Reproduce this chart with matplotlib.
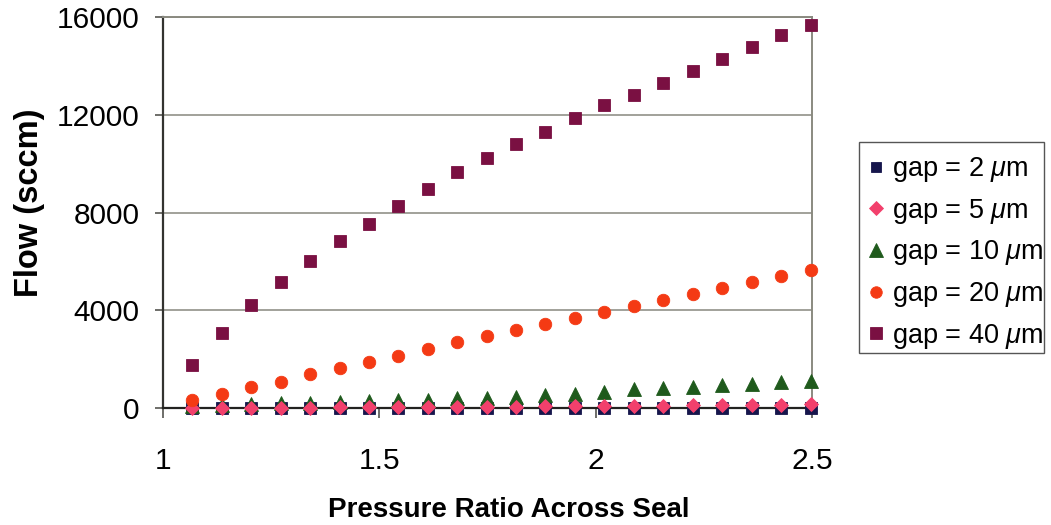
import matplotlib
matplotlib.use("Agg")
import matplotlib.pyplot as plt
from matplotlib.patches import Rectangle

plt.rcParams['font.family'] = ['Liberation Sans', 'DejaVu Sans']
plt.rcParams['mathtext.fontset'] = 'custom'
plt.rcParams['mathtext.rm'] = 'Liberation Sans'
plt.rcParams['mathtext.it'] = 'Liberation Sans:italic'

# Pressure ratio across the seal (x) and measured flow in sccm for each gap
pressure_ratio = [1.068, 1.136, 1.204, 1.272, 1.340, 1.408, 1.476, 1.544, 1.612, 1.680, 1.748,
                  1.816, 1.884, 1.952, 2.020, 2.088, 2.156, 2.224, 2.293, 2.361, 2.429, 2.497]
flow_gap2 = [1, 1, 2, 2, 2, 3, 3, 3, 4, 4, 5, 5, 5, 6, 6, 7, 7, 8, 8, 9, 9, 10]
flow_gap5 = [5, 8, 10, 14, 18, 22, 27, 32, 38, 44, 50, 57, 64, 72, 80, 88, 96, 105, 115, 125, 135, 145]
flow_gap10 = [80, 110, 150, 190, 220, 250, 270, 320, 330, 390, 400, 460, 520, 560, 640,
              780, 830, 860, 930, 1000, 1070, 1100]
flow_gap20 = [340, 585, 850, 1070, 1400, 1640, 1870, 2140, 2430, 2690, 2950, 3190, 3440, 3680,
              3930, 4170, 4420, 4660, 4920, 5160, 5400, 5650]
flow_gap40 = [1760, 3080, 4215, 5170, 6005, 6815, 7530, 8280, 8965, 9655, 10235, 10815, 11310,
              11875, 12400, 12800, 13300, 13780, 14270, 14760, 15250, 15670]

labels = ['gap = 2 $\\mu$m', 'gap = 5 $\\mu$m', 'gap = 10 $\\mu$m',
          'gap = 20 $\\mu$m', 'gap = 40 $\\mu$m']
x_ticks = [1, 1.5, 2, 2.5]
x_tick_labels = ['1', '1.5', '2', '2.5']
y_ticks = [0, 4000, 8000, 12000, 16000]

W, H = 1051, 525
fig = plt.figure(figsize=(W / 100, H / 100), dpi=100)
ax = fig.add_axes([163 / W, 1 - 408 / H, (812 - 163) / W, (408 - 17) / H])

styles = [
    dict(marker='s', color='#16164c', ms=8.5, z=3),
    dict(marker='D', color='#f2406c', ms=7.5, z=5),
    dict(marker='^', color='#1f5a1c', ms=10.5, z=4),
    dict(marker='o', color='#f43a14', ms=9.0, z=6),
    dict(marker='s', color='#7a1042', ms=9.0, z=7),
]
series = [flow_gap2, flow_gap5, flow_gap10, flow_gap20, flow_gap40]
for ys, st, lab in zip(series, styles, labels):
    ax.plot(pressure_ratio, ys, linestyle='none', marker=st['marker'], ms=st['ms'],
            markerfacecolor=st['color'], markeredgecolor=st['color'], markeredgewidth=0.6,
            label=lab, zorder=st['z'], clip_on=False)

ax.set_xlim(1, 2.5)
ax.set_ylim(0, 16000)
ax.set_xticks(x_ticks)
ax.set_xticklabels(x_tick_labels)
ax.set_yticks(y_ticks)

ax.yaxis.grid(True, color='#9a9a92', linewidth=1.3, zorder=1)
ax.set_axisbelow(True)

for side in ['top', 'right']:
    ax.spines[side].set_color('#8a8a80')
    ax.spines[side].set_linewidth(1.4)
ax.spines['left'].set_color('#333330')
ax.spines['left'].set_linewidth(1.6)
ax.spines['bottom'].set_color('#222220')
ax.spines['bottom'].set_linewidth(1.6)

ax.tick_params(axis='y', direction='out', length=6, width=1.2, color='#555550',
               labelsize=21.5, pad=11)
ax.tick_params(axis='x', direction='out', length=7, width=1.2, color='#555550',
               labelsize=21.5, pad=21)

ax.set_xlabel('Pressure Ratio Across Seal', fontsize=20, fontweight='bold', va='center')
ax.xaxis.set_label_coords(0.533, -0.262)
ax.set_ylabel('Flow (sccm)', fontsize=23.5, fontweight='bold', va='center')
ax.yaxis.set_label_coords(-0.205, 0.525)

# Legend entries without a frame; the box is drawn separately
leg = ax.legend(loc='center left', bbox_to_anchor=(868 / W, 1 - 253 / H),
                bbox_transform=fig.transFigure, borderaxespad=0, borderpad=0,
                fontsize=19.5, frameon=False,
                handlelength=0.6, handletextpad=0.3, labelspacing=0.47,
                numpoints=1, markerscale=0.92)
fig.patches.append(Rectangle((859 / W, 1 - 353 / H), (1044 - 859) / W, (353 - 142) / H,
                             transform=fig.transFigure, facecolor='none',
                             edgecolor='#555555', linewidth=1.0, zorder=10))

fig.savefig('out.png', dpi=100, facecolor='white')
